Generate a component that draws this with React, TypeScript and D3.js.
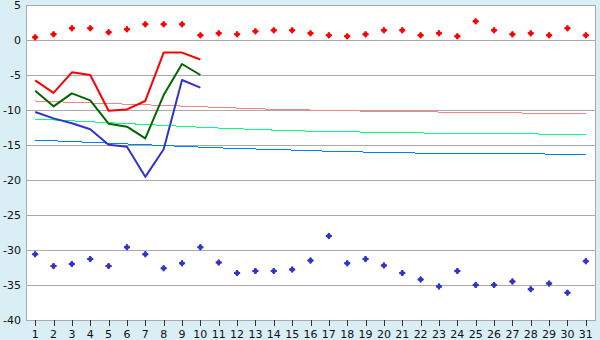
import React from "react";
import * as d3 from "d3";

const days: number[] = d3.range(1, 32);
const yTicks: number[] = [5, 0, -5, -10, -15, -20, -25, -30, -35, -40];

const topPoints: number[] = [0.38, 0.81, 1.67, 1.67, 1.1, 1.52, 2.24, 2.24, 2.24, 0.67, 0.95, 0.81, 1.24, 1.38, 1.38, 0.95, 0.67, 0.52, 0.81, 1.38, 1.38, 0.67, 0.95, 0.52, 2.67, 1.38, 0.81, 0.95, 0.67, 1.67, 0.67];
const bottomPoints: number[] = [-30.6, -32.3, -32.0, -31.3, -32.3, -29.6, -30.6, -32.6, -31.9, -29.6, -31.8, -33.3, -33.0, -33.0, -32.8, -31.5, -28.0, -31.9, -31.3, -32.2, -33.3, -34.2, -35.2, -33.0, -35.0, -35.0, -34.5, -35.6, -34.8, -36.1, -31.6];

const redLine: number[] = [-5.76, -7.55, -4.62, -5.0, -10.1, -9.92, -8.71, -1.8, -1.8, -2.78];
const greenLine: number[] = [-7.24, -9.48, -7.62, -8.62, -11.95, -12.38, -14.05, -7.86, -3.43, -5.0];
const blueLine: number[] = [-10.29, -11.2, -11.9, -12.76, -14.95, -15.24, -19.55, -15.6, -5.71, -6.81];

const pinkTrend: number[] = [-8.71, -8.81, -8.9, -8.99, -9.08, -9.17, -9.26, -9.35, -9.44, -9.53, -9.63, -9.72, -9.81, -9.9, -9.95, -10.0, -10.06, -10.11, -10.16, -10.2, -10.23, -10.26, -10.29, -10.32, -10.35, -10.38, -10.41, -10.45, -10.47, -10.48, -10.48];
const mintTrend: number[] = [-11.29, -11.42, -11.55, -11.68, -11.81, -11.94, -12.07, -12.2, -12.33, -12.46, -12.58, -12.68, -12.78, -12.87, -12.96, -13.02, -13.07, -13.11, -13.16, -13.2, -13.24, -13.28, -13.32, -13.34, -13.36, -13.38, -13.4, -13.42, -13.44, -13.45, -13.47];
const skyTrend: number[] = [-14.29, -14.4, -14.51, -14.62, -14.74, -14.85, -14.96, -15.08, -15.19, -15.3, -15.41, -15.49, -15.57, -15.65, -15.72, -15.8, -15.89, -15.95, -16.01, -16.06, -16.11, -16.16, -16.19, -16.21, -16.23, -16.24, -16.26, -16.28, -16.29, -16.31, -16.33];

const W = 600;
const H = 340;
const left = 26;
const right = 595;
const top = 5;
const bottom = 320;

export default function App() {
  const x = d3.scaleBand<number>().domain(days).range([left, right]).padding(0);
  const cx = (d: number) => (x(d) as number) + x.bandwidth() / 2;
  const y = d3.scaleLinear().domain([-40, 5]).range([bottom, top]);

  const line = d3
    .line<number>()
    .x((_, i) => cx(days[i]))
    .y((v) => y(v));

  const diamond = d3.symbol().type(d3.symbolSquare).size(20)() as string;
  const cross = d3.symbol().type(d3.symbolCross).size(20)() as string;

  const font = "'DejaVu Sans', Verdana, sans-serif";

  const Marker = ({ px, py, color }: { px: number; py: number; color: string }) => (
    <g transform={`translate(${px},${py})`} fill={color}>
      <path d={diamond} transform="rotate(45)" />
      <path d={cross} />
    </g>
  );

  return (
    <div style={{ position: "fixed", left: 0, top: 0 }}>
      <svg width={W} height={H} style={{ display: "block" }}>
        <rect x={0} y={0} width={W} height={H} fill="#d9eef5" />
        <rect x={left} y={top} width={right - left} height={bottom - top} fill="#ffffff" />
        {yTicks.map((t) => (
          <line key={"g" + t} x1={left} x2={right} y1={Math.round(y(t)) + 0.5} y2={Math.round(y(t)) + 0.5} stroke="#aaaaaa" strokeWidth={1} />
        ))}
        <line x1={left + 0.5} x2={left + 0.5} y1={top} y2={bottom + 1} stroke="#aaaaaa" />
        <line x1={right + 0.5} x2={right + 0.5} y1={top} y2={bottom + 1} stroke="#aaaaaa" />
        {yTicks.map((t) => (
          <text key={"t" + t} x={21} y={y(t)} dy="0.36em" textAnchor="end" fontFamily={font} fontSize={11} fill="#111">
            {String(t)}
          </text>
        ))}
        {days.map((d) => (
          <g key={"x" + d}>
            <line x1={Math.round(cx(d)) + 0.5} x2={Math.round(cx(d)) + 0.5} y1={bottom} y2={bottom + 6} stroke="#333" />
            <text x={cx(d)} y={338} textAnchor="middle" fontFamily={font} fontSize={11} fill="#111">
              {d}
            </text>
          </g>
        ))}
        <path d={line(pinkTrend) as string} fill="none" stroke="#ff8080" strokeWidth={1} shapeRendering="crispEdges" />
        <path d={line(mintTrend) as string} fill="none" stroke="#00ff80" strokeWidth={1} shapeRendering="crispEdges" />
        <path d={line(skyTrend) as string} fill="none" stroke="#0080ff" strokeWidth={1} shapeRendering="crispEdges" />
        <path d={line(redLine) as string} fill="none" stroke="#ff0000" strokeWidth={2} strokeLinejoin="round" />
        <path d={line(greenLine) as string} fill="none" stroke="#006600" strokeWidth={2} strokeLinejoin="round" />
        <path d={line(blueLine) as string} fill="none" stroke="#3333cc" strokeWidth={2} strokeLinejoin="round" />
        {topPoints.map((v, i) => (
          <Marker key={"tp" + i} px={cx(days[i])} py={y(v)} color="#ff0000" />
        ))}
        {bottomPoints.map((v, i) => (
          <Marker key={"bp" + i} px={cx(days[i])} py={y(v)} color="#3333cc" />
        ))}
      </svg>
    </div>
  );
}
